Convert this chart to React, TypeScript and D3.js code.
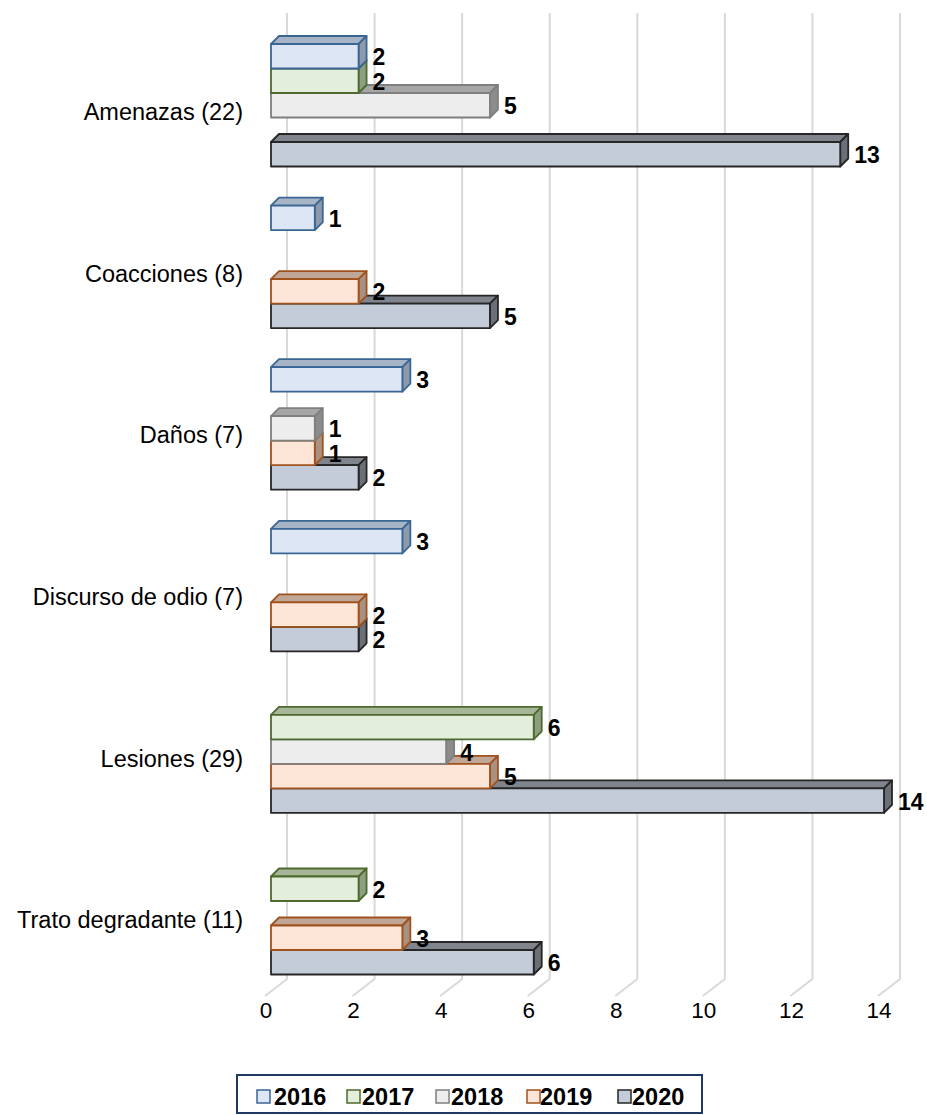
import React from "react";
import * as d3 from "d3";

const categories = [
  "Amenazas (22)",
  "Coacciones (8)",
  "Daños (7)",
  "Discurso de odio (7)",
  "Lesiones (29)",
  "Trato degradante (11)",
];
const years = ["2016", "2017", "2018", "2019", "2020"];
const v2016 = [2, 1, 3, 3, 0, 0];
const v2017 = [2, 0, 0, 0, 6, 2];
const v2018 = [5, 0, 1, 0, 4, 0];
const v2019 = [0, 2, 1, 2, 5, 3];
const v2020 = [13, 5, 2, 2, 14, 6];
const xTicks = [0, 2, 4, 6, 8, 10, 12, 14];

const seriesValues = [v2016, v2017, v2018, v2019, v2020];

const styles = [
  { front: "#DCE6F4", stroke: "#3A6694", top: "#A7B4C6", side: "#8E9AAB" },
  { front: "#E3EFDA", stroke: "#4F6A2E", top: "#A7B698", side: "#8E9E82" },
  { front: "#EDEDED", stroke: "#7F7F7F", top: "#A6A6A6", side: "#8C8C8C" },
  { front: "#FDE5D8", stroke: "#A0521E", top: "#C0A696", side: "#A89181" },
  { front: "#C5CCD9", stroke: "#262626", top: "#7F848D", side: "#6A6F78" },
];

const W = 927;
const H = 1115;
const D = 8;
const FONT = "Arial, 'Liberation Sans', sans-serif";

export default function App() {
  const x = d3.scaleLinear().domain([0, 14]).range([271, 884]);
  const yCat = d3.scaleBand().domain(categories).range([24.45, 994.05]).padding(0);
  const innerH = 122.5;
  const yYear = d3.scaleBand().domain(years).range([0, innerH]).padding(0);

  const bars: JSX.Element[] = [];
  const labels: JSX.Element[] = [];
  categories.forEach((cat, ci) => {
    const base = (yCat(cat) as number) + (yCat.bandwidth() - innerH) / 2;
    for (let si = years.length - 1; si >= 0; si--) {
      const v = seriesValues[si][ci];
      if (!v) continue;
      const st = styles[si];
      const y = base + (yYear(years[si]) as number);
      const h = yYear.bandwidth();
      const x0 = x(0);
      const x1 = x(v);
      const top = `${x0},${y} ${x0 + D},${y - D} ${x1 + D},${y - D} ${x1},${y}`;
      const side = `${x1},${y} ${x1 + D},${y - D} ${x1 + D},${y + h - D} ${x1},${y + h}`;
      bars.push(
        <g key={`b${ci}-${si}`} stroke={st.stroke} strokeWidth={1.8} strokeLinejoin="round">
          <polygon points={top} fill={st.top} />
          <polygon points={side} fill={st.side} />
          <rect x={x0} y={y} width={x1 - x0} height={h} fill={st.front} />
        </g>
      );
      labels.push(
        <text
          key={`l${ci}-${si}`}
          x={x1 + D + 6}
          y={y + h / 2 + 1}
          dominantBaseline="central"
          fontFamily={FONT}
          fontWeight="bold"
          fontSize={23}
          fill="#000"
        >
          {v}
        </text>
      );
    }
  });

  const legendItems = [
    { mx: 257, tx: 274 },
    { mx: 347, tx: 362 },
    { mx: 436, tx: 451 },
    { mx: 527, tx: 540 },
    { mx: 618, tx: 632 },
  ];

  return (
    <svg
      width={W}
      height={H}
      style={{ position: "absolute", left: 0, top: 0, background: "#fff" }}
    >
      <rect x={0} y={0} width={W} height={H} fill="#fff" />
      {xTicks.map((t) => (
        <polyline
          key={`g${t}`}
          points={`${x(t) + 16},13 ${x(t) + 16},979 ${x(t) - 6},996`}
          fill="none"
          stroke="#D9D9D9"
          strokeWidth={2}
        />
      ))}
      {xTicks.map((t) => (
        <text
          key={`t${t}`}
          x={x(t) - 5}
          y={1010}
          textAnchor="middle"
          dominantBaseline="central"
          fontFamily={FONT}
          fontSize={22.5}
          fill="#000"
        >
          {t}
        </text>
      ))}
      {categories.map((c) => (
        <text
          key={c}
          x={243}
          y={(yCat(c) as number) + yCat.bandwidth() / 2 + 7}
          textAnchor="end"
          dominantBaseline="central"
          fontFamily={FONT}
          fontSize={23.5}
          fill="#000"
        >
          {c}
        </text>
      ))}
      {bars}
      {labels}
      <rect x={237} y={1075} width={465} height={38} fill="#fff" stroke="#1F3864" strokeWidth={2} />
      {years.map((yr, i) => (
        <g key={yr}>
          <rect
            x={legendItems[i].mx}
            y={1090}
            width={13}
            height={13}
            fill={styles[i].front}
            stroke={styles[i].stroke}
            strokeWidth={1.5}
          />
          <text
            x={legendItems[i].tx}
            y={1097}
            dominantBaseline="central"
            fontFamily={FONT}
            fontWeight="bold"
            fontSize={23.5}
            fill="#000"
          >
            {yr}
          </text>
        </g>
      ))}
    </svg>
  );
}
